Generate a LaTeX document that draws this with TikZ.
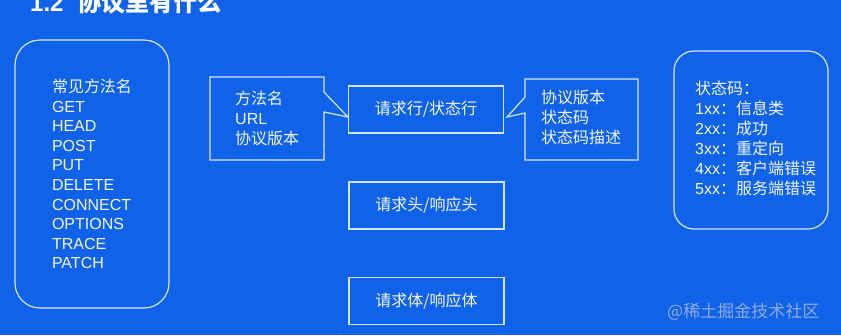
\documentclass[tikz,border=0pt]{standalone}
\usepackage{fontspec}
\setmainfont{Noto Sans CJK SC}
\newfontfamily\latin{Liberation Sans}
\usetikzlibrary{positioning, calc}
\definecolor{slideblue}{RGB}{16, 98, 232}
\definecolor{linewhite}{RGB}{214, 230, 255}
\definecolor{textwhite}{RGB}{242, 247, 255}
\definecolor{markgray}{RGB}{145, 172, 225}

\begin{document}
\begin{tikzpicture}[
    x=1pt, y=-1pt,
    roundbox/.style={rectangle, draw=linewhite, line width=1.2pt, inner sep=0pt},
    plainbox/.style={rectangle, draw=linewhite, line width=1.2pt,
                     minimum width=155pt, minimum height=47pt, inner sep=0pt,
                     text=textwhite, font=\fontsize{16}{19}\selectfont},
    callout/.style={draw=linewhite, line width=1.2pt, line join=miter},
    listtxt/.style={align=left, anchor=north west, inner sep=0pt,
                    text=textwhite, font=\fontsize{16}{20}\selectfont}
]

%% ── BACKGROUND ──────────────────────────────────────────────────────────────
\fill[slideblue] (0,0) rectangle (841,335);
\useasboundingbox (0,0) rectangle (841,335);

\node[anchor=west, inner sep=0pt, text=white,
      font=\fontsize{24}{24}\selectfont\bfseries] (title) at (30,3)
     {{\latin 1.2}\hspace{14pt}协议里有什么};

%% ── MESSAGE PARTS ───────────────────────────────────────────────────────────
\node[plainbox] (reqline) at (426,109.5) {请求行/状态行};
\node[plainbox] (reqhead) at (426.5,205.5) {请求头/响应头};
\node[plainbox] (reqbody) at (426.5,301) {请求体/响应体};

%% ── CALLOUTS ────────────────────────────────────────────────────────────────
\coordinate (ltip) at ($(reqline.west)+(0,7.5)$);
\coordinate (rtip) at ($(reqline.east)+(3,7.5)$);

\draw[callout] (324,92) -- (324,77) -- (210,77) -- (210,160) -- (324,160)
      -- (324,112) -- (ltip) -- cycle;
\node[listtxt] (linetxt) at (235,91) {方法名\\{\latin URL}\\协议版本};

\draw[callout] (525,97) -- (525,79) -- (638,79) -- (638,160) -- (525,160)
      -- (525,113) -- (rtip) -- cycle;
\node[listtxt] (statustxt) at (541,90) {协议版本\\状态码\\状态码描述};

%% ── METHODS / STATUS CODES ──────────────────────────────────────────────────
\node[roundbox, rounded corners=25pt, minimum width=154pt, minimum height=268pt,
      align=left, text=textwhite, font=\fontsize{16}{19.6}\selectfont]
     (methods) at (92,174)
     {常见方法名\\{\latin GET}\\{\latin HEAD}\\{\latin POST}\\{\latin PUT}\\
      {\latin DELETE}\\{\latin CONNECT}\\{\latin OPTIONS}\\{\latin TRACE}\\
      {\latin PATCH}};

\node[roundbox, rounded corners=20pt, minimum width=154pt, minimum height=178pt]
     (codes) at (751,140) {};
\node[listtxt] (codetxt) at (695,81)
     {状态码：\\{\latin 1xx}：信息类\\{\latin 2xx}：成功\\{\latin 3xx}：重定向\\
      {\latin 4xx}：客户端错误\\{\latin 5xx}：服务端错误};

\node[anchor=west, inner sep=0pt, text=markgray, font=\fontsize{17}{17}\selectfont]
     (mark) at (667,312) {@稀土掘金技术社区};

\end{tikzpicture}
\end{document}
